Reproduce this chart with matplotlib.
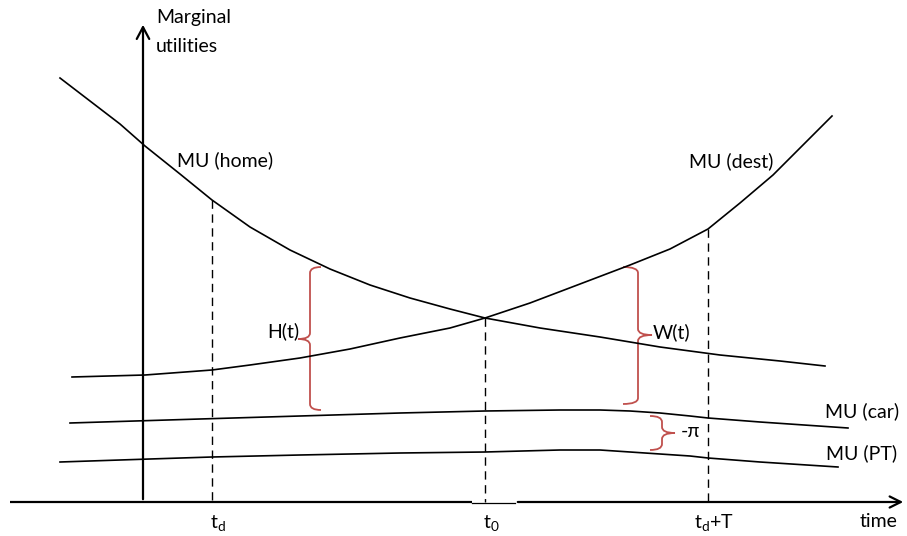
import matplotlib.pyplot as plt
from matplotlib.path import Path
from matplotlib.patches import PathPatch

plt.rcParams["font.family"] = ["Lato", "DejaVu Sans"]

# curves in screen units (x right, y down)
home_x = [60, 90, 120, 145, 180, 212, 250, 290, 330, 370, 410, 450, 485, 540, 600, 660, 720, 780, 825]
home_y = [78, 101, 124, 146, 174, 200, 227, 250, 269, 285, 298, 309, 318, 328, 337, 347, 355, 361, 366]

dest_x = [72, 145, 212, 250, 300, 350, 400, 450, 485, 530, 580, 630, 670, 708, 740, 773, 800, 832]
dest_y = [377, 375, 370, 365, 358, 349, 338, 328, 318, 303, 284, 265, 249, 229, 203, 175, 148, 116]

car_x = [70, 200, 300, 400, 485, 560, 600, 630, 660, 690, 708, 760, 848]
car_y = [423, 419, 416, 413, 411, 410, 410, 411, 413, 416, 418, 422, 428]

pt_x = [60, 150, 212, 300, 400, 485, 560, 600, 630, 660, 690, 708, 760, 838]
pt_y = [462, 459, 457, 455, 453, 452, 450, 450, 452, 454, 456, 458, 462, 467]

# time marks: position, top of dashed line, label
mark_x = [212, 485, 708]
mark_top = [200, 318, 229]
mark_labels = [r"$\mathregular{t_d}$", r"$\mathregular{t_0}$", r"$\mathregular{t_d}$+T"]

RED = "#C0504D"

fig = plt.figure(figsize=(9.07, 5.36), dpi=100)
ax = fig.add_axes([0, 0, 1, 1])
ax.set_xlim(0, 907)
ax.set_ylim(536, 0)
ax.axis("off")

# axes with arrows
ax.annotate("", xy=(143, 22), xytext=(143, 502),
            arrowprops=dict(arrowstyle="->,head_length=0.85,head_width=0.45", lw=1.6, color="black"))
ax.plot([10, 472], [502, 502], color="black", lw=1.6, solid_capstyle="butt")
ax.plot([472, 515], [502.5, 502.5], color="black", lw=0.9)
ax.annotate("", xy=(906, 502), xytext=(515, 502),
            arrowprops=dict(arrowstyle="->,head_length=0.8,head_width=0.4", lw=1.6, color="black"))

for xs, ys in [(home_x, home_y), (dest_x, dest_y), (car_x, car_y), (pt_x, pt_y)]:
    ax.plot(xs, ys, color="black", lw=1.2)

for x, top, lab in zip(mark_x, mark_top, mark_labels):
    ax.plot([x, x], [top, 502], color="black", lw=1.0, dashes=(6, 4))
    ax.text(x + 6, 528, lab, ha="center", va="baseline", fontsize=14)


def brace(x, y0, y1, x_end, x_tip, y_mid, r=6):
    verts = [(x_end, y0), (x, y0), (x, y0 + r),
             (x, y_mid - r), (x, y_mid), (x_tip, y_mid),
             (x, y_mid), (x, y_mid + r),
             (x, y1 - r), (x, y1), (x_end, y1)]
    codes = [Path.MOVETO, Path.CURVE3, Path.CURVE3,
             Path.LINETO, Path.CURVE3, Path.CURVE3,
             Path.CURVE3, Path.CURVE3,
             Path.LINETO, Path.CURVE3, Path.CURVE3]
    ax.add_patch(PathPatch(Path(verts, codes), fill=False, edgecolor=RED, lw=1.3))


brace(310, 267, 410, 321, 298, 339)
brace(638, 267, 404, 623, 652, 335)
brace(662, 416, 450, 650, 675, 433)

txt = dict(fontsize=14, va="baseline", ha="left")
ax.text(156, 23, "Marginal", **txt)
ax.text(156, 52, "utilities", **txt)
ax.text(177, 166, "MU (home)", **txt)
ax.text(689, 167, "MU (dest)", **txt)
ax.text(825, 417, "MU (car)", **txt)
ax.text(826, 459, "MU (PT)", **txt)
ax.text(267, 337, "H(t)", **txt)
ax.text(653, 338, "W(t)", **txt)
ax.text(681, 437, "-π", **txt)
ax.text(860, 527, "time", **txt)

fig.savefig("out.png", dpi=100)
